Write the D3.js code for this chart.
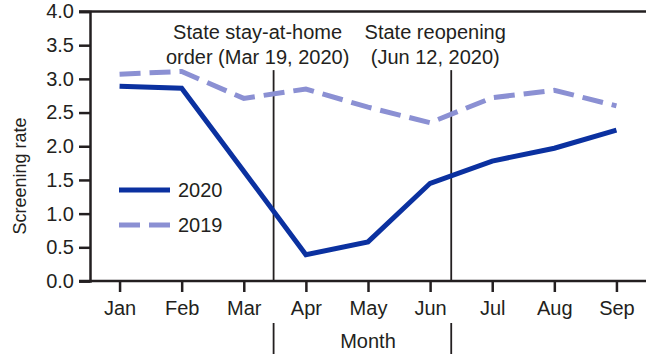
<!DOCTYPE html>
<html>
<head>
<meta charset="utf-8">
<script src="https://cdn.jsdelivr.net/npm/d3@7/dist/d3.min.js"></script>
<style>
  html, body { margin: 0; padding: 0; background: #fff; }
  svg { display: block; }
  text { font-family: "Liberation Sans", Arial, sans-serif; fill: #231f20; }
</style>
</head>
<body>
<svg id="chart" width="646" height="354"></svg>
<script>
const months = ["Jan", "Feb", "Mar", "Apr", "May", "Jun", "Jul", "Aug", "Sep"];
const rate2020 = [2.89, 2.86, 1.63, 0.39, 0.58, 1.45, 1.78, 1.97, 2.24];
const rate2019 = [3.07, 3.11, 2.71, 2.85, 2.58, 2.35, 2.72, 2.83, 2.60];
const yTicks = [0, 0.5, 1, 1.5, 2, 2.5, 3, 3.5, 4];
const eventPos = [2.48, 5.34];
const eventLabels = [["State stay-at-home", "order (Mar 19, 2020)"], ["State reopening", "(Jun 12, 2020)"]];
const seriesNames = ["2020", "2019"];

const svg = d3.select("#chart");
const x = d3.scaleLinear().domain([-0.476, 8.476]).range([90, 646]);
const y = d3.scaleLinear().domain([0, 4]).range([281, 11.5]);
const axisColor = "#231f20";
const c2020 = "#0b31a0";
const c2019 = "#8b90d3";

// Y axis
const yAxis = svg.append("g").attr("transform", "translate(90,0)")
  .call(d3.axisLeft(y).tickValues(yTicks).tickFormat(d3.format(".1f")).tickSize(11).tickPadding(5));
yAxis.select(".domain").attr("stroke", axisColor).attr("stroke-width", 2.5);
yAxis.selectAll(".tick line").attr("stroke", axisColor).attr("stroke-width", 2.5);
yAxis.selectAll(".tick text").attr("font-size", 20).attr("font-family", "Liberation Sans, Arial, sans-serif").attr("fill", axisColor);

// top border
svg.append("line").attr("x1", 79).attr("x2", 646).attr("y1", y(4)).attr("y2", y(4))
  .attr("stroke", axisColor).attr("stroke-width", 2.5);

// X axis
const xAxis = svg.append("g").attr("transform", `translate(0,${y(0)})`)
  .call(d3.axisBottom(x).tickValues(d3.range(months.length)).tickFormat(i => months[i]).tickSize(11).tickPadding(9).tickSizeOuter(0));
xAxis.select(".domain").attr("stroke", axisColor).attr("stroke-width", 2.5).attr("d", "M79,0H646");
xAxis.selectAll(".tick line").attr("stroke", axisColor).attr("stroke-width", 2.5);
xAxis.selectAll(".tick text").attr("font-size", 20).attr("font-family", "Liberation Sans, Arial, sans-serif").attr("fill", axisColor);

// Axis titles
svg.append("text").attr("transform", `translate(26,176) rotate(-90)`)
  .attr("text-anchor", "middle").attr("font-size", 18).text("Screening rate");
svg.append("text").attr("x", x(4)).attr("y", 348).attr("text-anchor", "middle")
  .attr("font-size", 20).text("Month");

// Event lines
eventPos.forEach((p, i) => {
  svg.append("line").attr("x1", x(p)).attr("x2", x(p)).attr("y1", y(3.13)).attr("y2", y(0))
    .attr("stroke", axisColor).attr("stroke-width", 1.8);
  svg.append("line").attr("x1", x(p)).attr("x2", x(p)).attr("y1", 323).attr("y2", 354)
    .attr("stroke", axisColor).attr("stroke-width", 1.8);
  const t = svg.append("text").attr("text-anchor", "middle").attr("font-size", 20);
  eventLabels[i].forEach((s, k) => {
    t.append("tspan").attr("x", x(p) - 16).attr("y", 39 + k * 25).text(s);
  });
});

// Lines
const line = d3.line().x((d, i) => x(i)).y(d => y(d));
svg.append("path").datum(rate2019).attr("d", line).attr("fill", "none")
  .attr("stroke", c2019).attr("stroke-width", 5).attr("stroke-dasharray", "21,9");
svg.append("path").datum(rate2020).attr("d", line).attr("fill", "none")
  .attr("stroke", c2020).attr("stroke-width", 5);

// Legend
const legend = [{ name: seriesNames[0], color: c2020, dash: null, yv: 1.35 },
                { name: seriesNames[1], color: c2019, dash: "21,9", yv: 0.83 }];
legend.forEach(l => {
  svg.append("line").attr("x1", 119).attr("x2", 170).attr("y1", y(l.yv)).attr("y2", y(l.yv))
    .attr("stroke", l.color).attr("stroke-width", 5).attr("stroke-dasharray", l.dash);
  svg.append("text").attr("x", 178).attr("y", y(l.yv) + 7).attr("font-size", 20).text(l.name);
});
</script>
</body>
</html>
